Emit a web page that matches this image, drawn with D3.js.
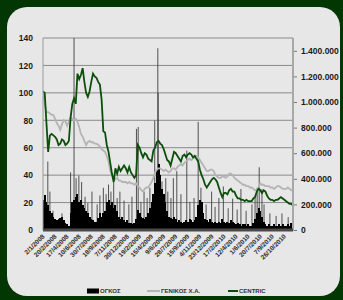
<!DOCTYPE html>
<html>
<head>
<meta charset="utf-8">
<script src="https://cdnjs.cloudflare.com/ajax/libs/d3/7.8.5/d3.min.js"></script>
<style>
  body { margin: 0; background: #023602; }
  text { font-family: "Liberation Sans", Arial, sans-serif; }
</style>
</head>
<body>
<div id="chart"></div>
<script>
// x tick labels, one every 35 trading days
var dateLabels = ["2/1/2008","20/2/2008","17/4/2008","10/6/2008","30/7/2008","18/9/2008","7/11/2008",
  "30/12/2008","19/2/2009","15/4/2009","9/6/2009","28/7/2009","15/9/2009","4/11/2009","23/12/2009",
  "17/2/2010","12/4/2010","1/6/2010","20/7/2010","7/9/2010","26/10/2010"];

// weekly samples (every 5 trading days)
var centric = [101,100,78,57,69,70,69,68,66,62,
  63,66,65,62,63,65,82,92,96,92,
  114,110,113,118,108,100,97,101,108,114,
  112,111,108,106,95,72,71,62,57,49,
  41,35,45,41,46,43,45,47,45,42,
  46,42,40,38,40,62,60,56,53,56,
  55,52,51,50,58,60,64,65,63,62,
  59,55,51,50,47,52,57,56,54,52,
  50,54,55,53,55,56,55,53,54,52,
  50,44,40,37,33,31,33,35,37,38,
  37,35,31,27,24,27,27,26,29,30,
  28,28,25,23,23,22,22,21,22,21,
  21,21,23,24,28,30,29,27,29,28,
  25,23,22,22,21,22,22,23,24,23,
  22,21,20,19,19,18];

var genikos = [100,92,86,86,85,84,84,81,78,76,
  73,77,80,79,76,79,82,81,80,81,
  79,75,70,68,65,62,64,65,64,64,
  63,63,62,61,59,58,57,54,50,43,
  40,39,37,38,36,36,35,35,35,34,
  35,34,34,33,34,32,31,29,28,30,
  31,31,33,35,38,42,44,45,45,44,
  43,44,43,42,43,45,45,44,46,47,
  48,47,49,50,51,52,51,52,53,54,
  53,51,49,47,45,43,43,44,44,43,
  40,39,38,38,39,39,38,39,41,41,
  40,38,37,36,35,34,33,33,32,32,
  31,31,30,29,29,31,34,33,33,32,
  32,32,31,31,30,31,32,32,31,30,
  30,30,31,30,29,29];

var volume = [235000,270000,215000,195000,150000,130000,105000,85000,75000,85000,
  95000,105000,75000,55000,45000,30000,130000,215000,235000,255000,
  280000,215000,235000,195000,170000,150000,130000,105000,85000,75000,
  65000,65000,95000,130000,105000,130000,150000,215000,235000,195000,
  215000,170000,195000,150000,105000,85000,105000,75000,65000,75000,
  55000,55000,45000,55000,85000,160000,130000,105000,95000,85000,
  105000,130000,170000,215000,280000,365000,480000,515000,430000,320000,
  280000,215000,150000,105000,95000,85000,105000,85000,65000,75000,
  65000,55000,65000,75000,65000,85000,75000,65000,75000,105000,
  195000,235000,215000,130000,85000,75000,65000,85000,65000,55000,
  65000,55000,65000,55000,85000,65000,55000,65000,55000,75000,
  65000,55000,45000,55000,45000,30000,45000,45000,30000,45000,
  30000,30000,55000,85000,130000,170000,150000,105000,65000,45000,
  30000,45000,30000,30000,45000,30000,30000,45000,30000,45000,
  30000,30000,45000,30000,55000,45000];

// single-day volume spikes: [trading day, volume]
var volumePeaks = [[14,535000],[20,300000],[29,150000],[55,130000],[80,450000],[90,1650000],
  [96,405000],[104,425000],[112,375000],[122,260000],[130,210000],[142,300000],[157,200000],
  [165,270000],[175,330000],[183,280000],[190,355000],[197,300000],[205,405000],[215,250000],
  [223,300000],[235,230000],[249,200000],[258,260000],[271,790000],[276,805000],[284,220000],
  [293,300000],[302,250000],[310,330000],[324,855000],[333,1420000],[334,1070000],[345,380000],
  [356,405000],[362,300000],[371,250000],[378,405000],[388,460000],[400,280000],[417,620000],
  [426,220000],[438,250000],[450,845000],[458,330000],[473,200000],[489,300000],[499,180000],
  [510,250000],[523,340000],[537,170000],[550,245000],[563,160000],[574,320000],[589,150000],
  [606,200000],[615,270000],[621,330000],[627,490000],[635,320000],[641,200000],[658,130000],
  [676,110000],[693,130000],[711,100000]];

var legendNames = ["ΟΓΚΟΣ", "ΓΕΝΙΚΟΣ Χ.Α.", "CENTRIC"];

(function () {
  var W = 343, H = 300;
  var pLeft = 43, pRight = 293, pTop = 38, pBottom = 230;
  var step = 5, labelStep = 35;
  var fontFam = "'Liberation Sans', Arial, sans-serif";

  var svg = d3.select("#chart").append("svg")
      .attr("width", W).attr("height", H);

  // rounded light panel
  svg.append("rect")
      .attr("x", 7).attr("y", 7).attr("width", 333).attr("height", 289)
      .attr("rx", 20).attr("ry", 20)
      .attr("fill", "#e7e7e7");

  var x = d3.scaleLinear().domain([0, (centric.length - 1) * step]).range([pLeft, pRight]);
  var yL = d3.scaleLinear().domain([0, 140]).range([pBottom, pTop]);
  var yR = d3.scaleLinear().domain([0, 1500000]).range([pBottom, pTop]);
  var barW = x(step) - x(0) + 0.3;

  svg.append("clipPath").attr("id", "plot")
    .append("rect").attr("x", pLeft).attr("y", pTop)
    .attr("width", pRight - pLeft).attr("height", pBottom - pTop);

  // horizontal gridlines
  svg.selectAll(".grid")
      .data(yL.ticks(7).filter(function(d) { return d > 0; }))
      .enter().append("line")
      .attr("x1", pLeft).attr("x2", pRight)
      .attr("y1", function(d) { return yL(d); })
      .attr("y2", function(d) { return yL(d); })
      .attr("stroke", "#8a8a8a").attr("stroke-width", 1);

  var g = svg.append("g").attr("clip-path", "url(#plot)");

  g.selectAll(".peak")
      .data(volumePeaks)
      .enter().append("line")
      .attr("x1", function(d) { return x(d[0]); })
      .attr("x2", function(d) { return x(d[0]); })
      .attr("y1", pBottom)
      .attr("y2", function(d) { return yR(d[1]); })
      .attr("stroke", "#404040").attr("stroke-width", 0.9);

  // volume bars
  g.selectAll(".vol")
      .data(volume)
      .enter().append("rect")
      .attr("x", function(d, i) { return x(i * step) - barW / 2; })
      .attr("width", barW)
      .attr("y", function(d) { return yR(d); })
      .attr("height", function(d) { return pBottom - yR(d); })
      .attr("fill", "#000")
      .attr("shape-rendering", "crispEdges");

  var line = d3.line()
      .x(function(d, i) { return x(i * step); })
      .y(function(d) { return yL(d); });

  g.append("path").datum(genikos)
      .attr("d", line)
      .attr("fill", "none").attr("stroke", "#b4b4b4").attr("stroke-width", 1.8);

  g.append("path").datum(centric)
      .attr("d", line)
      .attr("fill", "none").attr("stroke", "#0b4f0b").attr("stroke-width", 1.8);

  // axes
  svg.append("line").attr("x1", pLeft).attr("x2", pLeft).attr("y1", pTop).attr("y2", pBottom)
      .attr("stroke", "#9a9a9a").attr("stroke-width", 1);
  svg.append("line").attr("x1", pRight).attr("x2", pRight).attr("y1", pTop).attr("y2", pBottom + 1)
      .attr("stroke", "#a8a8a8").attr("stroke-width", 2);
  svg.append("line").attr("x1", pLeft).attr("x2", pRight).attr("y1", pBottom).attr("y2", pBottom)
      .attr("stroke", "#4a4a4a").attr("stroke-width", 3);

  var leftAxis = svg.append("g")
      .attr("transform", "translate(" + pLeft + ",0)")
      .call(d3.axisLeft(yL).ticks(7).tickSize(0).tickPadding(10));
  leftAxis.select(".domain").remove();
  leftAxis.selectAll("text")
      .attr("font-size", "8.5px").attr("font-weight", "bold").attr("fill", "#1a1a1a")
      .style("font-family", fontFam);

  var greek = d3.formatLocale({ decimal: ",", thousands: ".", grouping: [3], currency: ["", ""] });
  var rightAxis = svg.append("g")
      .attr("transform", "translate(" + pRight + ",0)")
      .call(d3.axisRight(yR).tickValues(d3.range(0, 1400001, 200000))
        .tickFormat(greek.format(",")).tickSize(3).tickPadding(5));
  rightAxis.select(".domain").remove();
  rightAxis.selectAll(".tick line").attr("stroke", "#777").attr("transform", "translate(1,0)");
  rightAxis.selectAll("text")
      .attr("font-size", "8.5px").attr("font-weight", "bold").attr("fill", "#1a1a1a")
      .style("font-family", fontFam);

  // rotated date labels
  svg.selectAll(".xlab")
      .data(dateLabels)
      .enter().append("text")
      .attr("transform", function(d, i) {
        return "translate(" + (x(i * labelStep) + 2) + "," + (pBottom + 7) + ") rotate(-45)";
      })
      .attr("text-anchor", "end")
      .attr("font-size", "6.5px")
      .attr("font-weight", "bold")
      .attr("fill", "#2e2e2e")
      .text(function(d) { return d; });

  // legend
  var legX = [87, 147, 228], legW = [12, 13, 10];
  var leg = svg.selectAll(".leg").data(legendNames).enter().append("g")
      .attr("transform", function(d, i) { return "translate(" + legX[i] + ",291)"; });
  leg.append("rect")
      .attr("x", 0).attr("y", function(d, i) { return i == 0 ? -2.5 : -1; })
      .attr("width", function(d, i) { return legW[i]; })
      .attr("height", function(d, i) { return i == 0 ? 5 : 2; })
      .attr("fill", function(d, i) { return ["#000", "#b4b4b4", "#0b4f0b"][i]; });
  leg.append("text")
      .attr("x", function(d, i) { return legW[i] + 1; })
      .attr("y", 2.2)
      .attr("font-size", "6px").attr("font-weight", "bold").attr("fill", "#333")
      .text(function(d) { return d; });
})();
</script>
</body>
</html>
